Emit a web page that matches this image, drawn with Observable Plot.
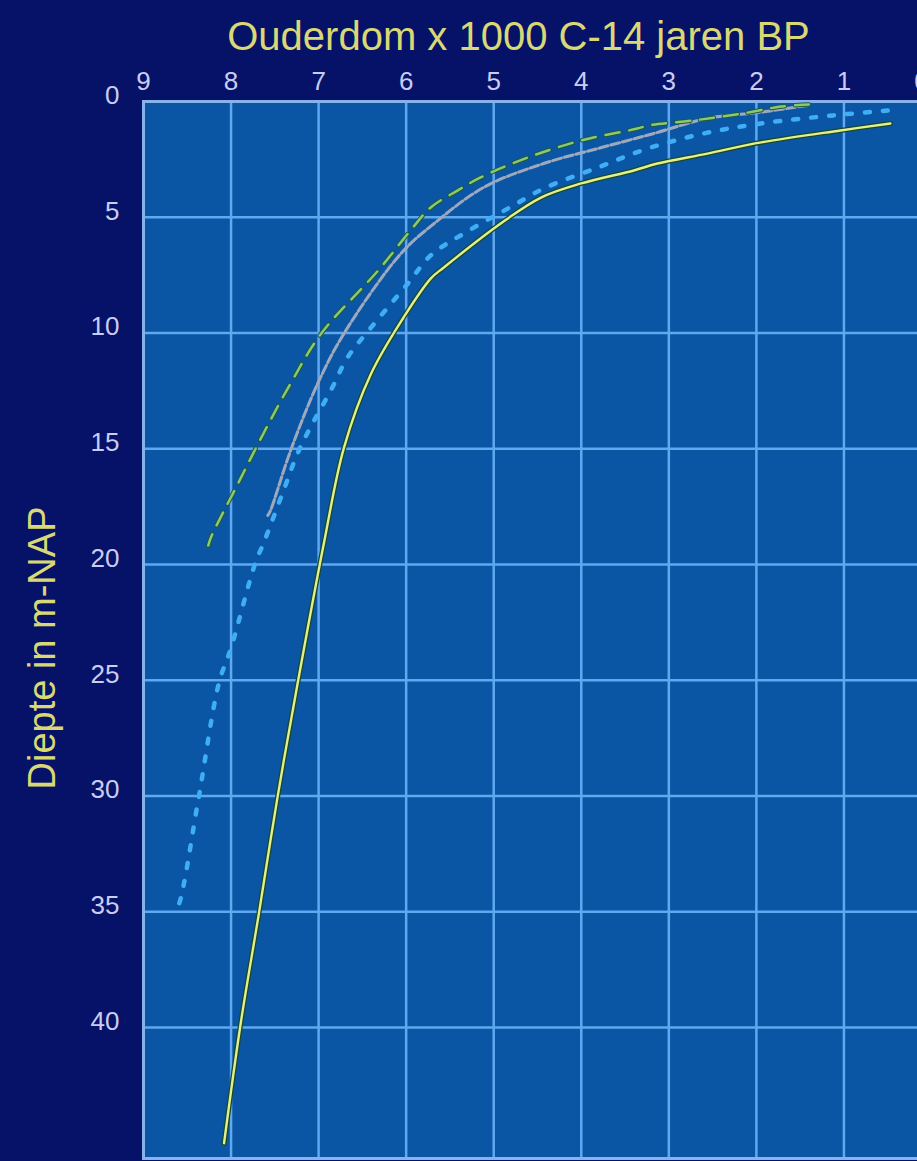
<!DOCTYPE html>
<html><head><meta charset="utf-8">
<script src="https://cdn.jsdelivr.net/npm/d3@7"></script>
<script src="https://cdn.jsdelivr.net/npm/@observablehq/plot@0.6"></script>
<style>
html,body{margin:0;padding:0;background:#061268;overflow:hidden;width:917px;height:1161px}
#chart{position:absolute;left:0;top:0}
#chart svg{max-width:none !important}
</style></head><body><div id="chart"></div>
<script>
// Tick labels
const ageTicks = [9, 8, 7, 6, 5, 4, 3, 2, 1];
const ageTickEdge = [0];
const depthTicks = [0, 5, 10, 15, 20, 25, 30, 35, 40];
const ageGrid = [8, 7, 6, 5, 4, 3, 2, 1];
const depthGrid = [5, 10, 15, 20, 25, 30, 35, 40];

// Series: age (x1000 C-14 years BP) and depth (m-NAP)
const yellowAge   = [0.47, 1.04, 2.0, 2.56, 3.13, 3.4, 4.0, 4.46, 4.92, 5.57, 5.72, 6.03, 6.4, 6.71, 6.94, 7.24, 7.47, 7.68, 7.89, 8.08];
const yellowDepth = [0.95, 1.25, 1.8, 2.25, 2.68, 2.98, 3.54, 4.15, 5.27, 7.17, 7.65, 9.33, 11.75, 14.95, 19.09, 25.14, 30.07, 35.03, 39.83, 45.0];

const blueAge   = [0.5, 1.12, 1.95, 2.6, 3.24, 3.81, 4.43, 4.78, 5.34, 5.72, 5.98, 6.4, 6.67, 6.86, 7.07, 7.24, 7.4, 7.63, 7.72, 8.0, 8.14, 8.37, 8.6, 8.65];
const blueDepth = [0.39, 0.6, 0.95, 1.38, 2.03, 2.85, 3.76, 4.5, 5.7, 6.65, 7.86, 9.76, 11.06, 12.48, 13.91, 15.2, 16.8, 19.09, 19.9, 23.6, 25.14, 30.07, 34.73, 35.03];

const grayAge   = [1.42, 1.99, 2.56, 3.17, 3.78, 4.43, 5.11, 5.68, 6.06, 6.71, 7.01, 7.32, 7.55, 7.58];
const grayDepth = [0.17, 0.48, 0.73, 1.38, 2.0, 2.68, 3.7, 5.27, 6.57, 10.02, 12.18, 15.08, 17.67, 17.88];

const greenAge   = [1.4, 1.72, 2.1, 2.72, 3.24, 3.36, 4.0, 4.61, 5.15, 5.41, 5.72, 5.95, 6.32, 6.97, 7.32, 7.63, 7.92, 8.23, 8.26];
const greenDepth = [0.13, 0.22, 0.48, 0.82, 1.04, 1.17, 1.68, 2.42, 3.28, 3.84, 4.58, 5.57, 7.3, 10.02, 12.18, 14.34, 16.5, 18.83, 19.18];

const titleText = "Ouderdom x 1000 C-14 jaren BP";
const yLabelText = "Diepte in m-NAP";

const toRows = (a, d) => a.map((v, i) => ({age: v, depth: d[i]}));
const yellow = toRows(yellowAge, yellowDepth);
const blue = toRows(blueAge, blueDepth);
const gray = toRows(grayAge, grayDepth);
const green = toRows(greenAge, greenDepth);

const font = "'Liberation Sans', Arial, sans-serif";
const tickColor = "#c9cdf2";
const labelColor = "#d9d874";
const xAxisOpts = {anchor: "top", tickSize: 0, tickPadding: 12, fontSize: 26, color: tickColor, label: null, tickFormat: d => String(d)};

const chart = Plot.plot({
  width: 935,
  height: 1161,
  marginLeft: 143,
  marginRight: 4,
  marginTop: 101,
  marginBottom: 3,
  style: {background: "transparent", fontFamily: font},
  x: {domain: [9, 0], axis: null},
  y: {domain: [0, 45.66], reverse: true, axis: null},
  marks: [
    Plot.frame({fill: "#0b55a5"}),
    Plot.gridX(ageGrid, {stroke: "#5fa9f0", strokeOpacity: 1, strokeWidth: 2.5}),
    Plot.gridY(depthGrid, {stroke: "#5fa9f0", strokeOpacity: 1, strokeWidth: 2.5}),
    Plot.frame({stroke: "#88b2ea", strokeWidth: 3}),
    Plot.line(blue, {x: "age", y: "depth", curve: "catmull-rom", stroke: "#3eaef6", strokeWidth: 4.5, strokeDasharray: "5,13"}),
    Plot.line(gray, {x: "age", y: "depth", curve: "catmull-rom", stroke: "#9fa9bd", strokeWidth: 3, strokeDasharray: "9,3"}),
    Plot.line(green, {x: "age", y: "depth", curve: "catmull-rom", stroke: "#1d5a3a", strokeWidth: 4.5, strokeDasharray: "14,10"}),
    Plot.line(green, {x: "age", y: "depth", curve: "catmull-rom", stroke: "#8cc872", strokeWidth: 2.5, strokeDasharray: "14,10"}),
    Plot.line(yellow, {x: "age", y: "depth", curve: "catmull-rom", stroke: "#174a2c", strokeWidth: 5}),
    Plot.line(yellow, {x: "age", y: "depth", curve: "catmull-rom", stroke: "#e3ef8c", strokeWidth: 2.4}),
    Plot.axisX(ageTicks, xAxisOpts),
    Plot.axisX(ageTickEdge, {...xAxisOpts, dx: -10}),
    Plot.axisY(depthTicks, {anchor: "left", tickSize: 0, tickPadding: 24, fontSize: 26, color: tickColor, label: null, dy: -6, tickFormat: d => String(d)}),
    Plot.text([titleText], {text: d => d, frameAnchor: "top", dx: -19, dy: -80, fontSize: 40, fill: labelColor}),
    Plot.text([yLabelText], {text: d => d, frameAnchor: "left", textAnchor: "middle", dx: -101, dy: 18, rotate: -90, fontSize: 38, fill: labelColor})
  ]
});
chart.style.maxWidth = "none";
document.getElementById("chart").appendChild(chart);
</script>
</body></html>
